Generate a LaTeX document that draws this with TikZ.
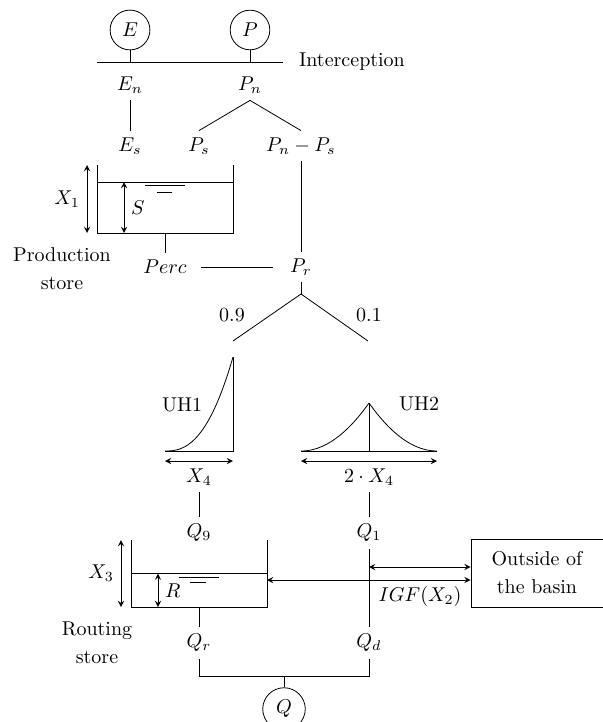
\documentclass[tikz,border=0pt]{standalone}
\tikzset{
 inout/.style={draw,circle},
 dimarrow/.style={<->},
 outbox/.style={draw,align=center,minimum width=66pt,minimum height=34pt},
 caption/.style={align=center},
}
\begin{document}
\begin{tikzpicture}[x=0.5pt,y=-0.5pt,>=stealth]
 \useasboundingbox (0,0) rectangle (603,722);
 % interception
 \node[inout] (E) at (130,30) {$E$};
 \node[inout] (P) at (250,30) {$P$};
 \coordinate (il) at (97,62);
 \coordinate (ir) at (283,62);
 \draw (il) -- (ir);
 \node (intc) at (352,62) {Interception};
 \draw (E) -- (E |- il);
 \draw (P) -- (P |- il);
 \node (En) at (130,85) {$E_n$};
 \node (Pn) at (250,85) {$P_n$};
 \node (Es) at (130,146) {$E_s$};
 \node (Ps) at (199,146) {$P_s$};
 \node (PnPs) at (301,146) {$P_n-P_s$};
 \draw (En) -- (Es);
 \draw (Pn.south) -- (Ps.north);
 \draw (Pn.south) -- (PnPs.north);
 % production store
 \begin{scope}[shift={(97,165)}]
  \draw (0,0) -- (0,68) -- (136,68) -- (136,0);
  \draw (0,17) -- (136,17);
  \draw (48,20) -- (88,20);
  \draw (60,27) -- (75,27);
  \draw[dimarrow] (-10,0) -- (-10,68) node[midway,left] {$X_1$};
  \draw[dimarrow] (27,17) -- (27,68) node[midway,right] {$S$};
  \coordinate (prodbot) at (68,68);
 \end{scope}
 \node[caption] (prodlbl) at (62,269) {Production\\[2pt]store};
 \node (Perc) at (165,267) {$Perc$};
 \node (Pr) at (301,267) {$P_r$};
 \draw (prodbot) -- (Perc);
 \draw (PnPs) -- (Pr);
 \draw[shorten <=3.5pt,shorten >=5pt] (Perc) -- (Pr);
 % split
 \coordinate (split) at (301,294);
 \coordinate (uh1in) at (233,341);
 \coordinate (uh2in) at (368,341);
 \draw (Pr) -- (split);
 \draw (uh1in) -- (split) -- (uh2in);
 \node (w1) at (232,315) {$0.9$};
 \node (w2) at (369,315) {$0.1$};
 % unit hydrographs
 \draw (165,451) -- (233,451) -- (233,357);
 \draw[domain=0:1,samples=60,variable=\t] plot ({165+68*\t},{451-94*\t*\t*sqrt(\t)});
 \node (uh1) at (182,405) {UH1};
 \draw[dimarrow] (165,461) -- (233,461);
 \node (X4a) at (199,477) {$X_4$};
 \draw (301,451) -- (437,451);
 \draw (369,451) -- (369,403);
 \draw[domain=0:1,samples=60,variable=\t] plot ({301+68*\t},{451-48*\t*\t});
 \draw[domain=0:1,samples=60,variable=\t] plot ({437-68*\t},{451-48*\t*\t});
 \node (uh2) at (419,404) {UH2};
 \draw[dimarrow] (301,461) -- (437,461);
 \node (X4b) at (369,477) {$2\cdot X_4$};
 % routing store
 \node (Q9) at (199,533) {$Q_9$};
 \node (Q1) at (369,533) {$Q_1$};
 \draw (X4a) -- (Q9);
 \draw (X4b) -- (Q1);
 \begin{scope}[shift={(131,540)}]
  \draw (0,0) -- (0,67) -- (136,67) -- (136,0);
  \draw (0,33.5) -- (136,33.5);
  \draw (48,37) -- (88,37);
  \draw (59,42) -- (75,42);
  \draw[dimarrow] (-10,0) -- (-10,67) node[midway,left] {$X_3$};
  \draw[dimarrow] (27,33.5) -- (27,67) node[midway,right] {$R$};
  \coordinate (routbot) at (68,67);
  \coordinate (routwall) at (136,40);
 \end{scope}
 \node[caption] (routlbl) at (97,643) {Routing\\[2pt]store};
 \node[outbox] (out) at (537,573) {Outside of\\[2pt]the basin};
 \node (Qr) at (199,643) {$Q_r$};
 \node (Qd) at (369,643) {$Q_d$};
 \draw (Q1) -- (Qd);
 \draw (routbot) -- (Qr);
 \coordinate (igf1) at (369,567);
 \draw[dimarrow] (igf1) -- (igf1 -| out.west);
 \draw[dimarrow] (routwall) -- (routwall -| out.west);
 \node (igf) at (420,596) {$IGF(X_2)$};
 % outlet
 \coordinate (join) at (284,676);
 \node[inout] (Q) at (284,709) {$Q$};
 \draw (Qr) -- (Qr |- join) -- (Qd |- join) -- (Qd);
 \draw (join) -- (Q);
\end{tikzpicture}
\end{document}
